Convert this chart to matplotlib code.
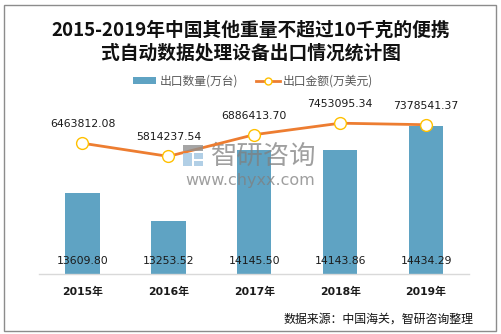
import matplotlib
matplotlib.use("Agg")
import matplotlib.pyplot as plt
from matplotlib.patches import Patch, Rectangle
from matplotlib.lines import Line2D

# ---- data ----
years = ["2015年", "2016年", "2017年", "2018年", "2019年"]
qty = [13609.80, 13253.52, 14145.50, 14143.86, 14434.29]          # 出口数量(万台)
amount = [6463812.08, 5814237.54, 6886413.70, 7453095.34, 7378541.37]  # 出口金额(万美元)

title = "2015-2019年中国其他重量不超过10千克的便携\n式自动数据处理设备出口情况统计图"
bar_name = "出口数量(万台)"
line_name = "出口金额(万美元)"
source = "数据来源：中国海关，智研咨询整理"

CJK = "Noto Sans CJK SC"
NUM = ["DejaVu Sans", CJK]
BAR_C = "#5FA3C3"
LINE_C = "#ED7D31"
MK_EDGE = "#FFC000"

W, H = 502, 334
fig = plt.figure(figsize=(W / 100, H / 100), dpi=100)
fig.patch.set_facecolor("white")

def fx(px): return px / W
def fy(py): return 1 - py / H

ax_left, ax_right, ax_top, ax_bot = 39.5, 469, 100, 274
ax = fig.add_axes([fx(ax_left), fy(ax_bot), fx(ax_right) - fx(ax_left), fy(ax_top) - fy(ax_bot)])
ax_h_px = ax_bot - ax_top

x = list(range(len(years)))
ax.bar(x, qty, width=0.4, color=BAR_C, zorder=2)
ax.set_xlim(-0.5, len(years) - 0.5)
ax.set_ylim(12600, 14760)
ax.set_yticks([])
for s in ["top", "left", "right"]:
    ax.spines[s].set_visible(False)
ax.spines["bottom"].set_color("#D9D9D9")
ax.spines["bottom"].set_linewidth(1.0)
ax.set_xticks(x)
ax.set_xticklabels(years, fontfamily=NUM, fontweight="bold", fontsize=7.8, color="#1a1a1a")
ax.tick_params(axis="x", length=0, pad=9.0)

for xi, v in zip(x, qty):
    ax.text(xi, 13 / ax_h_px, f"{v:.2f}", transform=ax.get_xaxis_transform(),
            ha="center", va="center", fontsize=7.8, fontfamily=NUM, color="#1a1a1a", zorder=5)

ax2 = ax.twinx()
ax2.set_ylim(0, 8.6e6)
ax2.set_yticks([])
for s in ax2.spines.values():
    s.set_visible(False)
ax2.plot(x, amount, color=LINE_C, lw=2.0, marker="o", markersize=8.5,
         markerfacecolor="white", markeredgecolor=MK_EDGE, markeredgewidth=1.0, zorder=5)
for xi, v in zip(x, amount):
    ax2.annotate(f"{v:.2f}", (xi, v), xytext=(0, 19), textcoords="offset pixels",
                 ha="center", va="center", fontsize=7.8, fontfamily=NUM, color="#1a1a1a")

# watermark (between bars and line)
ax.text(fx(264), fy(156), "智研咨询", transform=fig.transFigure, ha="center", va="center",
        fontsize=19, fontfamily=CJK, color="#7f7f7f", alpha=0.75, zorder=3)
ax.text(fx(250), fy(180), "www.chyxx.com", transform=fig.transFigure, ha="center", va="center",
        fontsize=11.5, fontfamily="DejaVu Sans", color="#7f7f7f", alpha=0.75, zorder=3)
for (x0, y0, w, h, c) in [(183, 145, 20, 6, "#8f8f8f"), (183, 153, 9, 13, "#9ec3e0"),
                          (194, 153, 9, 6, "#9ec3e0"), (194, 161, 9, 5, "#9ec3e0")]:
    fig.patches.append(Rectangle((fx(x0), fy(y0 + h)), w / W, h / H, transform=fig.transFigure,
                                 facecolor=c, edgecolor="none", alpha=0.8, zorder=3))

# title
fig.text(0.5, fy(30), title.split("\n")[0], ha="center", va="center",
         fontsize=13.5, fontweight="bold", fontfamily=CJK, color="#111111")
fig.text(0.5, fy(53), title.split("\n")[1], ha="center", va="center",
         fontsize=13.5, fontweight="bold", fontfamily=CJK, color="#111111")

# legend
handles = [Patch(facecolor=BAR_C, edgecolor="none"),
           Line2D([0], [0], color=LINE_C, lw=2.0, marker="o", markersize=5,
                  markerfacecolor="white", markeredgecolor=MK_EDGE, markeredgewidth=1.0)]
fig.legend(handles, [bar_name, line_name], loc="center", bbox_to_anchor=(fx(253), fy(81)),
           ncol=2, frameon=False, prop={"family": CJK, "size": 8.5},
           handlelength=2.0, handleheight=0.6, handletextpad=0.3, columnspacing=1.5,
           labelcolor="#595959")

# source
fig.text(fx(473), fy(319), source, ha="right", va="center", fontsize=8.6,
         fontfamily=CJK, color="#111111")

# border
fig.patches.append(Rectangle((fx(4), fy(331)), (496 - 4) / W, (331 - 5) / H,
                             transform=fig.transFigure, facecolor="none",
                             edgecolor="#8c8c8c", lw=1.0, zorder=10))

fig.savefig("out.png", dpi=100)
